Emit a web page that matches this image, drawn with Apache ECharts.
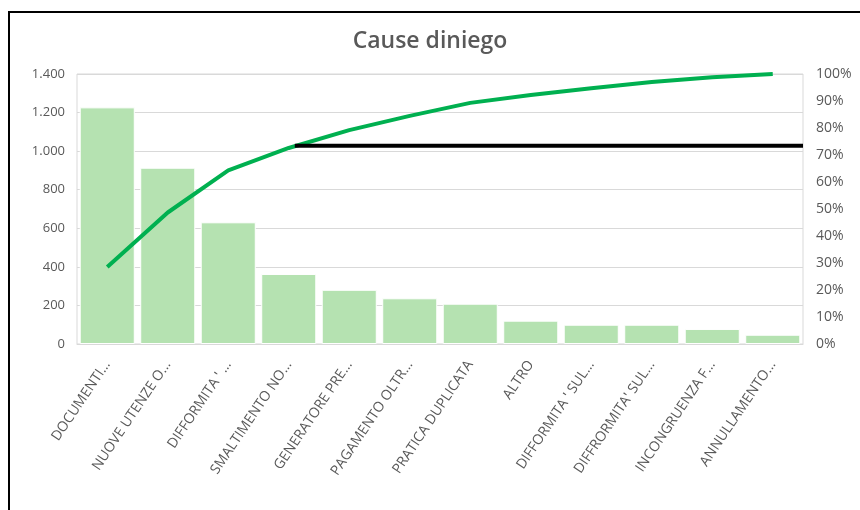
<!DOCTYPE html>
<html>
<head>
<meta charset="utf-8">
<script src="https://cdn.jsdelivr.net/npm/echarts@6/dist/echarts.min.js"></script>
<style>
html,body{margin:0;padding:0;background:#fff;}
#frame{position:absolute;left:8px;top:11px;width:852px;height:499px;border-top:2px solid #000;border-left:2px solid #000;}
#chart{position:absolute;left:0;top:0;width:860px;height:510px;}
</style>
</head>
<body>
<div id="frame"></div>
<div id="chart"></div>
<script>
const categories = ["DOCUMENTI...", "NUOVE UTENZE O...", "DIFFORMITA ' ...", "SMALTIMENTO NO...", "GENERATORE PRE...", "PAGAMENTO OLTR...", "PRATICA DUPLICATA", "ALTRO", "DIFFORMITA ' SUL...", "DIFFRORMITA' SUL...", "INCONGRUENZA F...", "ANNULLAMENTO..."];
const counts = [1227, 914, 631, 363, 281, 237, 209, 121, 100, 100, 78, 48];
const cumulativePct = [0.285, 0.487, 0.643, 0.726, 0.792, 0.845, 0.893, 0.922, 0.947, 0.970, 0.988, 1.0];
const thresholdPct = 0.734;
const thresholdStart = 3.6;   // position along category axis (in category units)
const leftTicks = {min: 0, max: 1400, interval: 200};
const rightTicks = {min: 0, max: 1, interval: 0.1};

const chart = echarts.init(document.getElementById('chart'));
const txt = '#595959';
chart.setOption({
  animation: false,
  title: {
    text: 'Cause diniego', left: 'center', top: 25,
    textStyle: {fontFamily: 'Open Sans', fontSize: 23, fontWeight: 600, color: txt}
  },
  grid: {left: 77, right: 57, top: 74, bottom: 166, show: true, borderColor: '#d9d9d9', borderWidth: 1},
  xAxis: [{
    type: 'category', data: categories,
    axisTick: {show: false},
    axisLine: {lineStyle: {color: '#d9d9d9'}},
    axisLabel: {rotate: 56, margin: 18, color: txt, fontFamily: 'Open Sans', fontSize: 14, interval: 0}
  }, {
    type: 'value', min: 0, max: categories.length, show: false
  }],
  yAxis: [{
    type: 'value', min: leftTicks.min, max: leftTicks.max, interval: leftTicks.interval,
    axisLine: {show: false}, axisTick: {show: false},
    splitLine: {lineStyle: {color: '#d9d9d9'}},
    axisLabel: {color: txt, fontFamily: 'Open Sans', fontSize: 13, margin: 12,
      formatter: v => v.toLocaleString('de-DE')}
  }, {
    type: 'value', min: rightTicks.min, max: rightTicks.max, interval: rightTicks.interval,
    axisLine: {show: false}, axisTick: {show: false}, splitLine: {show: false},
    axisLabel: {color: txt, fontFamily: 'Open Sans', fontSize: 14, margin: 13,
      formatter: v => Math.round(v * 100) + '%'}
  }],
  series: [{
    type: 'bar', data: counts, barCategoryGap: '9%',
    itemStyle: {color: '#b5e2b1', borderColor: '#ffffff', borderWidth: 1}
  }, {
    type: 'line', data: cumulativePct, yAxisIndex: 1, showSymbol: false,
    lineStyle: {color: '#00b050', width: 4}
  }, {
    type: 'line', xAxisIndex: 1, yAxisIndex: 1, showSymbol: false,
    data: [[thresholdStart, thresholdPct], [categories.length, thresholdPct]],
    lineStyle: {color: '#000000', width: 4}
  }]
});
</script>
</body>
</html>
